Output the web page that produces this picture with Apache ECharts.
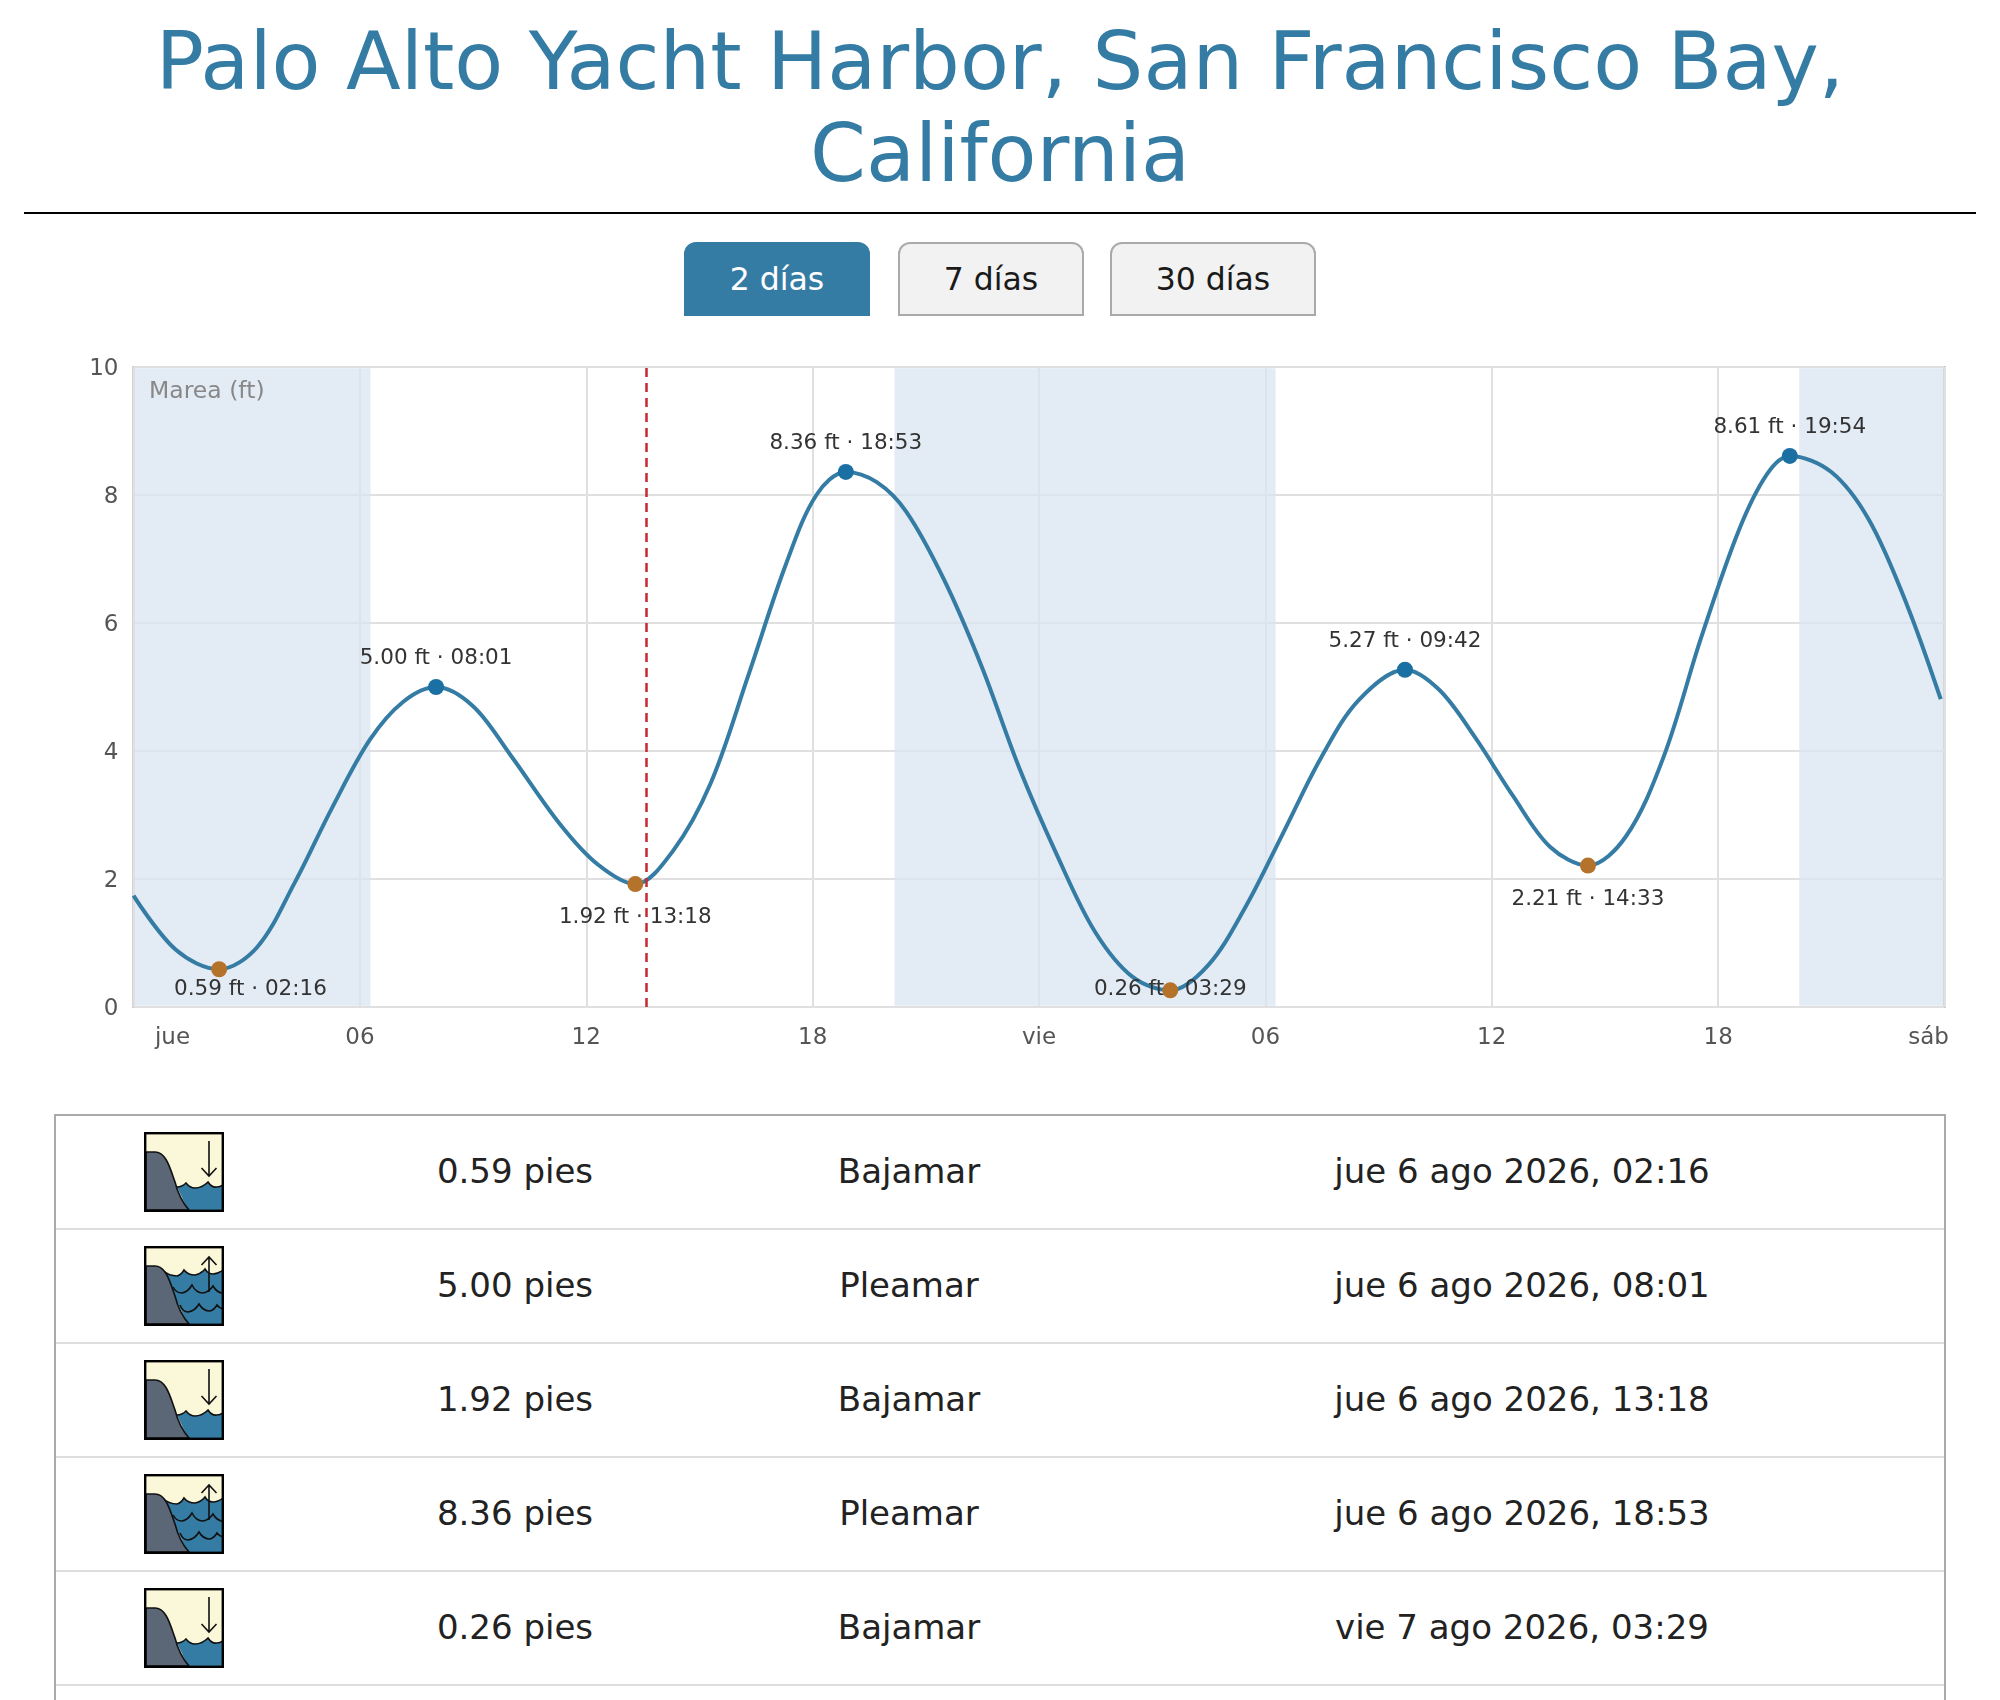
<!DOCTYPE html>
<html lang="es">
<head>
<meta charset="utf-8">
<title>Palo Alto Yacht Harbor</title>
<script src="https://cdn.jsdelivr.net/npm/echarts@6/dist/echarts.min.js"></script>
<style>
html,body{margin:0;padding:0;background:#fff;width:2000px;height:1700px;overflow:hidden;font-family:"DejaVu Sans",sans-serif}
h1{position:absolute;left:24px;width:1952px;top:16px;margin:0;text-align:center;font-weight:400;font-size:80px;line-height:92px;color:#357ca5}
#rule{position:absolute;left:24px;width:1952px;top:212px;height:2.4px;background:#000}
.btn{position:absolute;top:242px;height:74px;box-sizing:border-box;border:2px solid #aaa;border-radius:12px 12px 0 0;background:#f2f2f2;color:#1a1a1a;font-size:31.5px;line-height:70px;text-align:center}
.btn.on{background:#357ca5;border-color:#357ca5;color:#fff}
#chart{position:absolute;left:0;top:340px;width:2000px;height:730px}
#rows{position:absolute;left:54px;top:1114px;width:1892px;box-sizing:border-box;border:2px solid #aaa;border-bottom:none}
.row{position:relative;height:114px;box-sizing:border-box;border-bottom:2px solid #ddd;font-size:34px;color:#222}
.row span{position:absolute;top:0;line-height:110px;text-align:center;white-space:nowrap}
.row svg{position:absolute;left:88px;top:16px;width:80px;height:80px}
</style>
</head>
<body>
<h1>Palo Alto Yacht Harbor, San Francisco Bay, California</h1>
<div id="rule"></div>
<div id="btns"></div>
<div id="chart"></div>
<div id="rows"></div>
<script>
const xTickLabels = ['jue','06','12','18','vie','06','12','18','sáb'];
const yMax = 10;
const curveHours = [0,1.13,2.27,3.27,4.27,5.27,6.27,7.15,8.02,9,10,11.3,12.3,13.3,14.3,15.3,16.3,17.3,18.1,18.88,19.7,20.48,21.48,22.48,23.48,24.48,25.48,26.48,27.48,28.48,29.48,30.48,31.48,32.48,33.7,34.6,35.55,36.55,37.55,38.55,39.55,40.55,41.55,42.55,43.3,43.9,45,46,47,47.9];
const curveFeet  = [1.74,0.89,0.59,0.93,1.94,3.12,4.18,4.77,5.0,4.7,3.93,2.86,2.23,1.92,2.44,3.5,5.19,6.93,8.0,8.36,8.2,7.74,6.68,5.32,3.73,2.37,1.18,0.47,0.26,0.65,1.57,2.73,3.9,4.8,5.27,4.96,4.22,3.31,2.5,2.21,2.66,3.9,5.77,7.45,8.33,8.61,8.36,7.61,6.29,4.81];
const highHours = [8.02,18.88,33.7,43.9];
const highFeet  = [5.00,8.36,5.27,8.61];
const highTimes = ['08:01','18:53','09:42','19:54'];
const lowHours  = [2.27,13.3,27.48,38.55];
const lowFeet   = [0.59,1.92,0.26,2.21];
const lowTimes  = ['02:16','13:18','03:29','14:33'];
const nightBands = [[0.03,6.28],[20.17,30.27],[44.15,47.97]];
const nowHour = 13.58;
const buttonLabels = ['2 días','7 días','30 días'];
const tableValues = ['0.59 pies','5.00 pies','1.92 pies','8.36 pies','0.26 pies','5.27 pies','2.21 pies','8.61 pies'];
const tableKinds  = ['Bajamar','Pleamar','Bajamar','Pleamar','Bajamar','Pleamar','Bajamar','Pleamar'];
const tableDates  = ['jue 6 ago 2026, 02:16','jue 6 ago 2026, 08:01','jue 6 ago 2026, 13:18','jue 6 ago 2026, 18:53','vie 7 ago 2026, 03:29','vie 7 ago 2026, 09:42','vie 7 ago 2026, 14:33','vie 7 ago 2026, 19:54'];

const btnBoxes=[[684,186],[898,186],[1110,206]];
document.getElementById('btns').innerHTML=buttonLabels.map((t,i)=>`<div class="btn${i==0?' on':''}" style="left:${btnBoxes[i][0]}px;width:${btnBoxes[i][1]}px">${t}</div>`).join('');

const hill=`<path d="M2 20 H11 C22 20 26 36 31 50 C34 62 38 70 45 78 H2 Z" fill="#5b6777" stroke="#111" stroke-width="1.6"/>`;
const frame=`<rect x="1.2" y="1.2" width="77.6" height="77.6" fill="none" stroke="#000" stroke-width="2.4"/>`;
const lowWave="M33 55 Q38 55 42 51 Q46 56 51 56 Q58 56 64 50 Q68 56 73 55 Q76 55 79 53";
const lowIcon=`<svg viewBox="0 0 80 80"><rect width="80" height="80" fill="#fbf7d9"/>
<path d="${lowWave} V78 H44 Z" fill="#357ca5"/><path d="${lowWave}" fill="none" stroke="#111" stroke-width="1.6"/>${hill}
<path d="M65 9 V44 M57.5 36 L65 44 L72.5 36" fill="none" stroke="#111" stroke-width="1.6"/>${frame}</svg>`;
const hiWave="M18 24 Q25 30 33 30 Q37 29 40 24 Q44 29 51 29 Q57 28 61 23 Q64 28 69 28 Q74 28 79 24";
const highIcon=`<svg viewBox="0 0 80 80"><rect width="80" height="80" fill="#fbf7d9"/>
<path d="${hiWave} V78 H44 L20 30 Z" fill="#357ca5"/><path d="${hiWave}" fill="none" stroke="#111" stroke-width="1.6"/>
<path d="M29 41 Q32 47 38 47 Q44 46 48 39 Q52 47 59 47 Q65 46 69 40 Q73 47 79 47" fill="none" stroke="#111" stroke-width="1.6"/>
<path d="M36 59 Q39 66 44 66 Q51 65 55 58 Q59 65 66 65 Q70 64 73 59 Q75 62 79 63" fill="none" stroke="#111" stroke-width="1.6"/>${hill}
<path d="M65 46 V11 M57.5 19 L65 11 L72.5 19" fill="none" stroke="#111" stroke-width="1.6"/>${frame}</svg>`;
document.getElementById('rows').innerHTML=tableValues.map((v,i)=>`<div class="row">${tableKinds[i]=='Bajamar'?lowIcon:highIcon}
<span style="left:257px;width:404px">${v}</span><span style="left:661px;width:384px">${tableKinds[i]}</span><span style="left:1046px;width:840px">${tableDates[i]}</span></div>`).join('');

const pointLabelBase={show:true,fontFamily:'DejaVu Sans',fontSize:21.5,color:'#333',distance:17};
const clampLabel=p=>{const r=p.labelRect;return r.y+r.height>1002-340?{x:Math.max(r.x+r.width/2,250.5),y:649,align:'center',verticalAlign:'middle'}:{};};
const chart=echarts.init(document.getElementById('chart'),null,{renderer:'canvas'});
chart.setOption({
  animation:false,
  textStyle:{fontFamily:'DejaVu Sans'},
  title:{text:'Marea (ft)',left:144,top:35,textStyle:{fontFamily:'DejaVu Sans',fontWeight:'normal',fontSize:23.5,color:'#888'}},
  grid:{left:133.5,top:27,width:1811,height:640,show:true,borderColor:'#aaa',borderWidth:2,backgroundColor:'transparent'},
  xAxis:{type:'value',min:0,max:48,interval:6,
    axisLine:{show:false},axisTick:{show:false},
    splitLine:{show:true,lineStyle:{color:'#e0e0e0',width:2}},
    axisLabel:{color:'#555',fontSize:23,margin:20,
      formatter:v=>{const t=xTickLabels[v/6];return v===0?`{a|${t}}`:(v===48?`{b|${t}}`:t);},
      rich:{a:{fontSize:23,color:'#555',padding:[0,0,0,78]},b:{fontSize:23,color:'#555',padding:[0,32,0,0]}}}},
  yAxis:{type:'value',min:0,max:yMax,interval:2,
    axisLine:{show:false},axisTick:{show:false},
    splitLine:{show:true,lineStyle:{color:'#e0e0e0',width:2}},
    axisLabel:{color:'#555',fontSize:23,margin:15,formatter:v=>`{t|${v}}`,rich:{t:{fontSize:23,color:'#555',padding:[5,0,0,0]}}}},
  series:[
    {name:'noche',type:'line',data:[],z:1,silent:true,
      markArea:{silent:true,itemStyle:{color:'rgba(218,228,240,0.75)',opacity:1},data:nightBands.map(b=>[{xAxis:b[0],yAxis:0.02},{xAxis:b[1],yAxis:9.98}])}},
    {name:'Marea',type:'line',z:2,showSymbol:false,smooth:0.34,
      lineStyle:{color:'#357ca5',width:4},
      data:curveHours.map((h,i)=>[h,curveFeet[i]])},
    {name:'ahora',type:'line',data:[],z:3,silent:true,
      markLine:{silent:true,symbol:'none',label:{show:false},lineStyle:{color:'#c8292f',width:2.5,type:[9,6],opacity:1},data:[{xAxis:nowHour}]}},
    {name:'etiquetas pleamar',type:'scatter',z:4,symbolSize:1,itemStyle:{color:'transparent',opacity:1},
      label:Object.assign({},pointLabelBase,{position:'top',formatter:p=>highFeet[p.dataIndex].toFixed(2)+' ft · '+highTimes[p.dataIndex]}),
      data:highHours.map((h,i)=>[h,highFeet[i]])},
    {name:'etiquetas bajamar',type:'scatter',z:4,symbolSize:1,itemStyle:{color:'transparent',opacity:1},
      label:Object.assign({},pointLabelBase,{position:'bottom',distance:22,formatter:p=>lowFeet[p.dataIndex].toFixed(2)+' ft · '+lowTimes[p.dataIndex]}),
      labelLayout:clampLabel,
      data:lowHours.map((h,i)=>[h,lowFeet[i]])},
    {name:'Pleamar',type:'scatter',z:5,symbolSize:16,itemStyle:{color:'#1a6fa3',opacity:1},data:highHours.map((h,i)=>[h,highFeet[i]])},
    {name:'Bajamar',type:'scatter',z:5,symbolSize:16,itemStyle:{color:'#b5722a',opacity:1},data:lowHours.map((h,i)=>[h,lowFeet[i]])}
  ]
});
</script>
</body>
</html>
